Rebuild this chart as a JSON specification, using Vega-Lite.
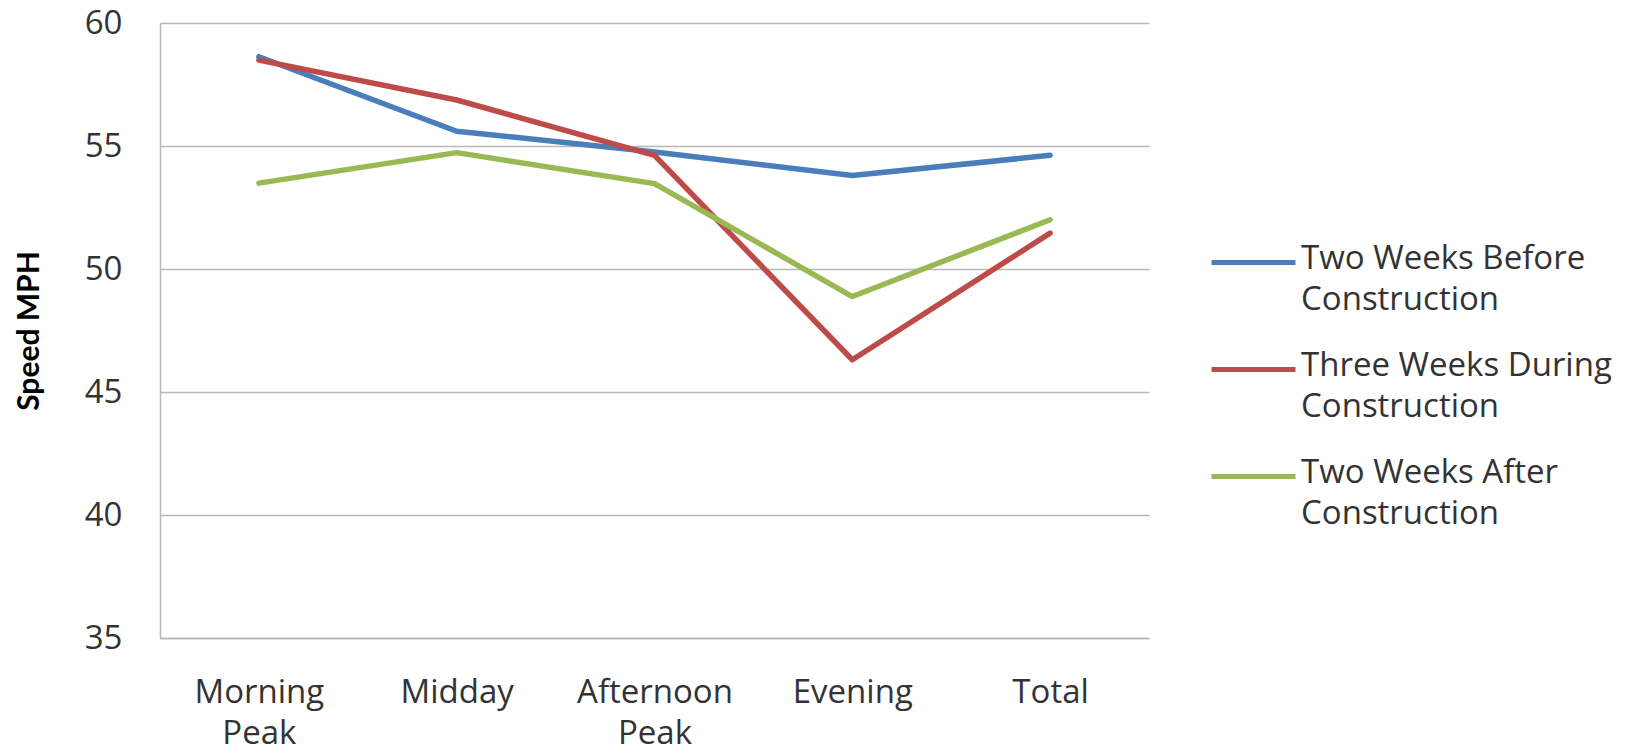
{
  "$schema": "https://vega.github.io/schema/vega-lite/v6.json",
  "width": 989,
  "height": 615,
  "autosize": "none",
  "padding": {"left": 160, "top": 23, "right": 499, "bottom": 115},
  "background": "white",
  "config": {
    "view": {"stroke": null},
    "font": "Open Sans"
  },
  "data": {
    "values": [
      {"period": "Morning Peak", "series": "Two Weeks Before Construction", "speed": 58.63},
      {"period": "Midday", "series": "Two Weeks Before Construction", "speed": 55.6},
      {"period": "Afternoon Peak", "series": "Two Weeks Before Construction", "speed": 54.76},
      {"period": "Evening", "series": "Two Weeks Before Construction", "speed": 53.8},
      {"period": "Total", "series": "Two Weeks Before Construction", "speed": 54.62},
      {"period": "Morning Peak", "series": "Three Weeks During Construction", "speed": 58.49},
      {"period": "Midday", "series": "Three Weeks During Construction", "speed": 56.87},
      {"period": "Afternoon Peak", "series": "Three Weeks During Construction", "speed": 54.62},
      {"period": "Evening", "series": "Three Weeks During Construction", "speed": 46.31},
      {"period": "Total", "series": "Three Weeks During Construction", "speed": 51.46},
      {"period": "Morning Peak", "series": "Two Weeks After Construction", "speed": 53.49},
      {"period": "Midday", "series": "Two Weeks After Construction", "speed": 54.73},
      {"period": "Afternoon Peak", "series": "Two Weeks After Construction", "speed": 53.47},
      {"period": "Evening", "series": "Two Weeks After Construction", "speed": 48.88},
      {"period": "Total", "series": "Two Weeks After Construction", "speed": 52.0}
    ]
  },
  "mark": {"type": "line", "strokeWidth": 5.5, "strokeCap": "round", "strokeJoin": "round"},
  "encoding": {
    "x": {
      "field": "period",
      "type": "nominal",
      "sort": ["Morning Peak", "Midday", "Afternoon Peak", "Evening", "Total"],
      "scale": {"type": "point", "padding": 0.5},
      "axis": {
        "title": null,
        "labelAngle": 0,
        "labelFont": "Open Sans",
        "labelFontSize": 33,
        "labelColor": "#333333",
        "labelBaseline": "top",
        "labelPadding": 38,
        "labelLineHeight": 41,
        "labelExpr": "datum.label == 'Morning Peak' ? ['Morning', 'Peak'] : datum.label == 'Afternoon Peak' ? ['Afternoon', 'Peak'] : datum.label",
        "ticks": false,
        "domainColor": "#b8b8b8",
        "domainWidth": 1.5,
        "grid": false
      }
    },
    "y": {
      "field": "speed",
      "type": "quantitative",
      "scale": {"domain": [35, 60], "nice": false, "zero": false},
      "axis": {
        "title": "Speed MPH",
        "titleFont": "Lato",
        "titleFontSize": 30,
        "titleFontWeight": "bold",
        "titleColor": "#000000",
        "titlePadding": 40,
        "values": [35, 40, 45, 50, 55, 60],
        "labelFont": "Open Sans",
        "labelFontSize": 33,
        "labelColor": "#333333",
        "labelPadding": 38,
        "ticks": false,
        "domainColor": "#b8b8b8",
        "domainWidth": 1.5,
        "gridColor": "#b8b8b8",
        "gridWidth": 1.5
      }
    },
    "color": {
      "field": "series",
      "type": "nominal",
      "sort": ["Two Weeks Before Construction", "Three Weeks During Construction", "Two Weeks After Construction"],
      "scale": {
        "domain": ["Two Weeks Before Construction", "Three Weeks During Construction", "Two Weeks After Construction"],
        "range": ["#4a7ebb", "#be4b48", "#98b954"]
      },
      "legend": {
        "title": null,
        "orient": "none",
        "legendX": 1049,
        "legendY": 195,
        "symbolType": "stroke",
        "symbolSize": 7056,
        "symbolStrokeWidth": 5,
        "labelFont": "Open Sans",
        "labelFontSize": 33,
        "labelColor": "#333333",
        "labelOffset": 3,
        "labelLimit": 400,
        "rowPadding": 8,
        "labelExpr": "[replace(datum.label, ' Construction', ''), 'Construction']",
        "encode": {
          "labels": {"update": {"lineHeight": {"value": 41}, "baseline": {"value": "top"}, "dy": {"value": -20}}}
        }
      }
    }
  }
}
